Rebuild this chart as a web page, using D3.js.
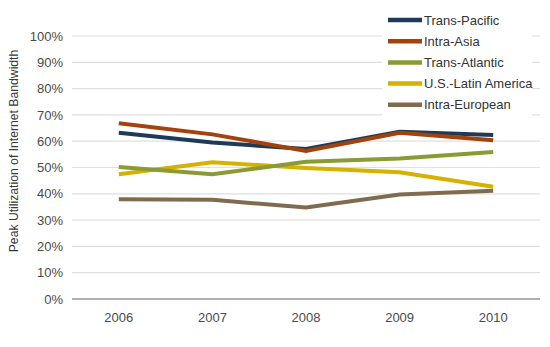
<!DOCTYPE html>
<html>
<head>
<meta charset="utf-8">
<script src="https://cdn.jsdelivr.net/npm/d3@7"></script>
<style>
body { margin: 0; background: #fff; }
svg { display: block; font-family: "Liberation Sans", Arial, Helvetica, sans-serif; }
</style>
</head>
<body>
<svg id="chart" width="550" height="347"></svg>
<script>
const years = ["2006", "2007", "2008", "2009", "2010"];
const seriesNames = ["Trans-Pacific", "Intra-Asia", "Trans-Atlantic", "U.S.-Latin America", "Intra-European"];
const transPacific = [63.2, 59.5, 57.0, 63.6, 62.4];
const intraAsia = [66.8, 62.6, 56.3, 63.2, 60.4];
const transAtlantic = [50.2, 47.4, 52.2, 53.4, 55.9];
const usLatinAmerica = [47.4, 52.0, 49.8, 48.2, 42.7];
const intraEuropean = [37.9, 37.7, 34.8, 39.7, 41.2];
const yTicks = [0, 10, 20, 30, 40, 50, 60, 70, 80, 90, 100];
const colors = ["#1d3a58", "#a3420c", "#8a9b36", "#d6b100", "#806b4f"];

const seriesValues = [transPacific, intraAsia, transAtlantic, usLatinAmerica, intraEuropean];

const svg = d3.select("#chart");
const margin = { left: 72, right: 10, top: 36, bottom: 48 };
const W = 550, H = 347;

const x = d3.scaleBand().domain(years).range([margin.left, W - margin.right]);
const y = d3.scaleLinear().domain([0, 100]).range([H - margin.bottom, margin.top]);

// gridlines
svg.append("g").selectAll("line").data(yTicks.filter(d => d > 0)).join("line")
  .attr("x1", margin.left).attr("x2", W - margin.right)
  .attr("y1", d => y(d)).attr("y2", d => y(d))
  .attr("stroke", "#e0e0e0").attr("stroke-width", 1.2);

// baseline
svg.append("line")
  .attr("x1", margin.left).attr("x2", W - margin.right)
  .attr("y1", y(0)).attr("y2", y(0))
  .attr("stroke", "#b0b0b0").attr("stroke-width", 2);

// y axis labels
const yAxis = d3.axisLeft(y).tickValues(yTicks).tickFormat(d => d + "%").tickSize(0).tickPadding(9);
const ya = svg.append("g").attr("transform", `translate(${margin.left},0)`).call(yAxis);
ya.select(".domain").remove();
ya.selectAll("text").attr("font-size", 13).attr("fill", "#4a4a4a").attr("font-family", "Liberation Sans, Arial, sans-serif");

// x axis labels
const xAxis = d3.axisBottom(x).tickSize(0).tickPadding(14);
const xa = svg.append("g").attr("transform", `translate(0,${y(0)})`).call(xAxis);
xa.select(".domain").remove();
xa.selectAll("text").attr("font-size", 13).attr("fill", "#4a4a4a").attr("font-family", "Liberation Sans, Arial, sans-serif");

// y title
svg.append("text")
  .attr("transform", `translate(18,151) rotate(-90)`)
  .attr("text-anchor", "middle")
  .attr("font-size", 12.2).attr("fill", "#3a3a3a")
  .text("Peak Utilization of Internet Bandwidth");

// lines
const line = d3.line()
  .x((d, i) => x(years[i]) + x.bandwidth() / 2)
  .y(d => y(d));

const order = [4, 3, 2, 0, 1];
svg.append("g").selectAll("path").data(order).join("path")
  .attr("d", i => line(seriesValues[i]))
  .attr("fill", "none")
  .attr("stroke", i => colors[i])
  .attr("stroke-width", 4)
  .attr("stroke-linejoin", "miter");

// legend
const lg = svg.append("g");
lg.append("rect").attr("x", 382).attr("y", 8).attr("width", 150).attr("height", 109).attr("fill", "#fff");
const items = lg.selectAll("g").data(seriesNames).join("g")
  .attr("transform", (d, i) => `translate(388,${20 + i * 21.2})`);
items.append("line").attr("x1", 0).attr("x2", 34).attr("y1", 0).attr("y2", 0)
  .attr("stroke", (d, i) => colors[i]).attr("stroke-width", 4.5);
items.append("text").attr("x", 36).attr("y", 0).attr("dy", "0.35em")
  .attr("font-size", 13).attr("fill", "#333").text(d => d);
</script>
</body>
</html>
